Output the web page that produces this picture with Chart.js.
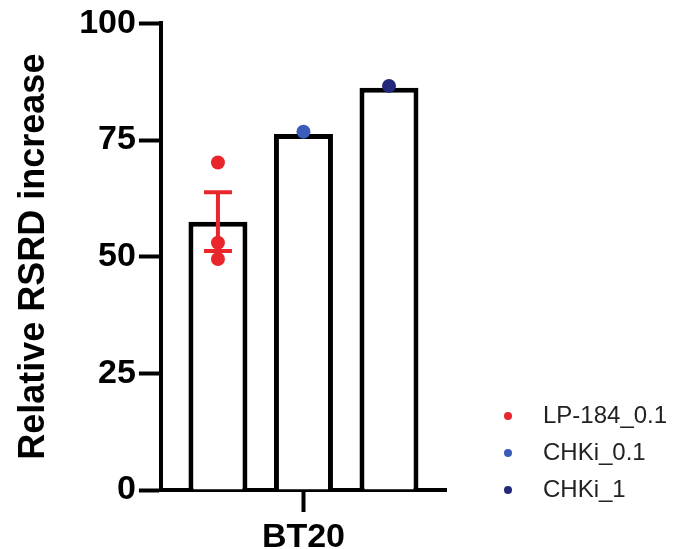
<!DOCTYPE html>
<html>
<head>
<meta charset="utf-8">
<title>BT20 RSRD</title>
<script src="https://cdn.jsdelivr.net/npm/chart.js@4/dist/chart.umd.min.js"></script>
<style>
  html, body { margin: 0; padding: 0; background: #fff; }
  #wrap { position: relative; width: 678px; height: 549px; }
</style>
</head>
<body>
<div id="wrap"><canvas id="barChart" width="678" height="549"></canvas></div>
<script>
// data
let categories = ["BT20"];
let groups = ["LP-184_0.1", "CHKi_0.1", "CHKi_1"];
let barMeans = [57.5, 76.3, 86.2];
let barErrors = [6.3, 0, 0];
let lpPoints = [70.2, 53.0, 49.5];
let chk01Points = [76.8];
let chk1Points = [86.6];
let yTicks = [0, 25, 50, 75, 100];

let groupColors = ["#e8262b", "#3b5cb8", "#22297a"];
let points = [lpPoints, chk01Points, chk1Points];

Chart.defaults.font.family = "'Liberation Sans', Arial, sans-serif";
Chart.defaults.color = "#000";

//error bars + replicate dots on top of the bars
let dotsPlugin = {
  id: "dots",
  afterDatasetsDraw: function (chart) {
    let ctx = chart.ctx;
    let y = chart.scales.y;
    ctx.save();
    for (let i = 0; i < groups.length; i++) {
      let bar = chart.getDatasetMeta(i).data[0];
      let x = bar.x;
      ctx.strokeStyle = groupColors[i];
      ctx.fillStyle = groupColors[i];
      if (barErrors[i] > 0) {
        let hi = y.getPixelForValue(barMeans[i] + barErrors[i]);
        let lo = y.getPixelForValue(barMeans[i] - barErrors[i]);
        ctx.lineWidth = 4;
        ctx.beginPath();
        ctx.moveTo(x, hi);
        ctx.lineTo(x, lo);
        ctx.moveTo(x - 14, hi);
        ctx.lineTo(x + 14, hi);
        ctx.moveTo(x - 14, lo);
        ctx.lineTo(x + 14, lo);
        ctx.stroke();
      }
      points[i].forEach(function (v) {
        ctx.beginPath();
        ctx.arc(x, y.getPixelForValue(v), 7, 0, Math.PI * 2);
        ctx.fill();
      });
    }
    ctx.restore();
  }
};

//legend drawn bottom right, dots + labels
let legendPlugin = {
  id: "sideLegend",
  afterDraw: function (chart) {
    let ctx = chart.ctx;
    ctx.save();
    ctx.font = "24px 'Liberation Sans', Arial, sans-serif";
    ctx.textBaseline = "middle";
    ctx.textAlign = "left";
    for (let i = 0; i < groups.length; i++) {
      let ly = 416 + i * 37;
      ctx.fillStyle = groupColors[i];
      ctx.beginPath();
      ctx.arc(508, ly, 4, 0, Math.PI * 2);
      ctx.fill();
      ctx.fillStyle = "#222";
      ctx.fillText(groups[i], 543, ly);
    }
    ctx.restore();
  }
};

let datasets = groups.map(function (g, i) {
  return {
    label: g,
    data: [barMeans[i]],
    backgroundColor: "#fff",
    borderColor: "#000",
    borderWidth: 5,
    borderSkipped: "start",
    categoryPercentage: 0.9,
    barPercentage: 0.69
  };
});

let chartOne = document.getElementById("barChart").getContext("2d");
new Chart(chartOne, {
  type: "bar",
  data: { labels: categories, datasets: datasets },
  plugins: [dotsPlugin, legendPlugin],
  options: {
    responsive: false,
    animation: false,
    layout: { padding: { top: 22, right: 232, bottom: 0, left: 0 } },
    plugins: {
      legend: { display: false },
      tooltip: { enabled: false }
    },
    scales: {
      x: {
        offset: true,
        //label sits close to the bottom edge, keep the axis box tight
        afterFit: function (scale) {
          scale.height = 59;
        },
        grid: {
          offset: false,
          drawOnChartArea: false,
          color: "#000",
          tickLength: 22,
          tickWidth: 4
        },
        border: { color: "#000", width: 4 },
        ticks: {
          padding: 9,
          color: "#000",
          font: { size: 34, weight: "bold", lineHeight: 1 }
        }
      },
      y: {
        min: 0,
        max: 100,
        afterBuildTicks: function (axis) {
          axis.ticks = yTicks.map(function (v) { return { value: v }; });
        },
        grid: {
          drawOnChartArea: false,
          color: "#000",
          tickLength: 22,
          tickWidth: 4
        },
        border: { color: "#000", width: 4 },
        ticks: {
          padding: 3,
          color: "#000",
          font: { size: 34, weight: "bold" }
        },
        title: {
          display: true,
          text: "Relative RSRD increase",
          color: "#000",
          font: { size: 36, weight: "bold" },
          padding: { top: 12, bottom: 21 }
        }
      }
    }
  }
});
</script>
</body>
</html>
